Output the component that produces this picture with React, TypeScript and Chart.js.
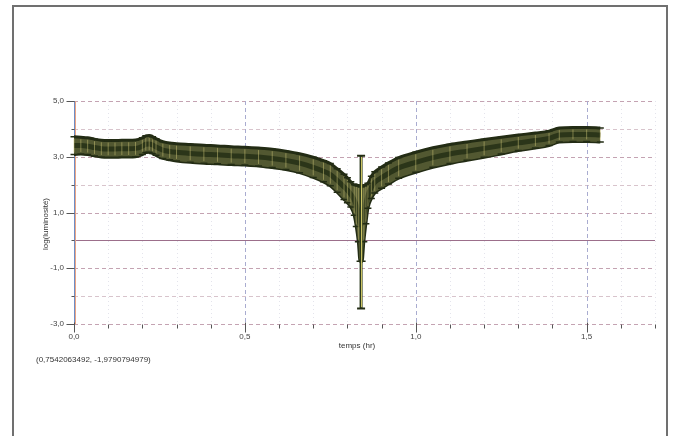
import React, { useEffect, useRef } from "react";
import { Chart, registerables } from "chart.js";

Chart.register(...registerables);

// time (hr)
const time = [0.00,0.02,0.04,0.06,0.08,0.10,0.12,0.14,0.16,0.18,0.20,0.21,0.22,0.23,0.24,0.26,0.28,0.30,0.34,0.38,0.42,0.46,0.50,0.54,0.58,0.62,0.66,0.70,0.73,0.75,0.77,0.79,0.80,0.81,0.82,0.826,0.832,0.837,0.843,0.848,0.854,0.86,0.87,0.88,0.90,0.92,0.95,1.00,1.05,1.10,1.15,1.20,1.25,1.30,1.35,1.39,1.42,1.46,1.50,1.54];
// log(luminosité)
const logLum = [3.40,3.40,3.38,3.33,3.29,3.28,3.28,3.29,3.29,3.30,3.38,3.45,3.46,3.42,3.35,3.24,3.19,3.16,3.12,3.09,3.07,3.04,3.02,2.99,2.94,2.87,2.77,2.62,2.48,2.36,2.15,1.92,1.80,1.65,1.45,1.25,0.95,0.60,0.60,0.95,1.30,1.60,1.90,2.08,2.25,2.40,2.60,2.80,2.97,3.10,3.20,3.30,3.40,3.50,3.58,3.66,3.78,3.80,3.80,3.78];
// error (±)
const err = [0.32,0.30,0.30,0.30,0.30,0.30,0.30,0.30,0.30,0.30,0.30,0.30,0.30,0.30,0.30,0.30,0.30,0.31,0.32,0.32,0.32,0.32,0.32,0.32,0.33,0.33,0.34,0.36,0.38,0.40,0.42,0.45,0.45,0.45,0.55,0.75,1.00,1.35,1.35,1.00,0.70,0.45,0.40,0.38,0.38,0.38,0.37,0.36,0.35,0.34,0.33,0.32,0.30,0.28,0.27,0.26,0.25,0.25,0.25,0.25];

// single point with the very large error bar
const spikeTime = [0.84];
const spikeValue = [0.30];
const spikeErr = [2.74];

const xTickValues = [0, 0.5, 1.0, 1.5];
const yTickValues = [5, 3, 1, -1, -3];

const xTitle = "temps (hr)";
const yTitle = "log(luminosité)";
const cursorText = "(0,7542063492, -1,9790794979)";

const FONT = "'Liberation Sans', Arial, sans-serif";
const fmt = (v: number) => v.toFixed(1).replace(".", ",");

const gridPlugin = {
  id: "customGrid",
  beforeDatasetsDraw(chart: any) {
    const ctx = chart.ctx;
    const xs = chart.scales.x;
    const ys = chart.scales.y;
    const { left, right, top, bottom } = chart.chartArea;
    ctx.save();
    ctx.lineWidth = 1;
    for (let i = 1; i <= 17; i++) {
      if (i % 5 === 0) continue;
      const px = Math.round(xs.getPixelForValue(i / 10)) + 0.5;
      ctx.strokeStyle = "#e4e4ec";
      ctx.setLineDash([1, 3]);
      ctx.beginPath();
      ctx.moveTo(px, top);
      ctx.lineTo(px, bottom);
      ctx.stroke();
    }
    for (let v = -3; v <= 5; v++) {
      const py = Math.round(ys.getPixelForValue(v)) + 0.5;
      if (v === 0) {
        ctx.setLineDash([]);
        ctx.strokeStyle = "#9c6f8b";
      } else {
        ctx.setLineDash([4, 3]);
        ctx.strokeStyle = v % 2 === 0 ? "#d8c4cc" : "#c4a3b2";
      }
      ctx.beginPath();
      ctx.moveTo(left, py);
      ctx.lineTo(right, py);
      ctx.stroke();
    }
    for (const v of [0.5, 1.0, 1.5]) {
      const px = Math.round(xs.getPixelForValue(v)) + 0.5;
      ctx.setLineDash([4, 3]);
      ctx.strokeStyle = "#a9acd0";
      ctx.beginPath();
      ctx.moveTo(px, top);
      ctx.lineTo(px, bottom);
      ctx.stroke();
    }
    ctx.setLineDash([]);
    const lx = Math.round(left) + 0.5;
    ctx.strokeStyle = "#e9a486";
    ctx.beginPath();
    ctx.moveTo(lx + 1, top);
    ctx.lineTo(lx + 1, bottom);
    ctx.stroke();
    ctx.strokeStyle = "#6d8dc6";
    ctx.beginPath();
    ctx.moveTo(lx, top);
    ctx.lineTo(lx, bottom);
    ctx.stroke();
    ctx.strokeStyle = "#555";
    for (let v = -3; v <= 5; v++) {
      const py = Math.round(ys.getPixelForValue(v)) + 0.5;
      const len = v % 2 !== 0 ? 8 : 3;
      ctx.beginPath();
      ctx.moveTo(lx - len, py);
      ctx.lineTo(lx, py);
      ctx.stroke();
    }
    const by = Math.round(bottom) + 0.5;
    for (let i = 0; i <= 17; i++) {
      const px = Math.round(xs.getPixelForValue(i / 10)) + 0.5;
      ctx.beginPath();
      if (i % 5 === 0) {
        ctx.moveTo(px, by - 2);
        ctx.lineTo(px, by + 8);
      } else {
        ctx.moveTo(px, by);
        ctx.lineTo(px, by + 4);
      }
      ctx.stroke();
    }
    ctx.restore();
  },
};

const errorBarPlugin = {
  id: "errorBars",
  afterDatasetsDraw(chart: any) {
    const ctx = chart.ctx;
    const xs = chart.scales.x;
    const ys = chart.scales.y;
    ctx.save();
    for (let i = 0; i < time.length; i++) {
      const px = xs.getPixelForValue(time[i]);
      const pTop = ys.getPixelForValue(logLum[i] + err[i]);
      const pBot = ys.getPixelForValue(logLum[i] - err[i]);
      ctx.strokeStyle = "rgba(205,198,120,0.5)";
      ctx.lineWidth = 1;
      ctx.beginPath();
      ctx.moveTo(px, pTop + 2);
      ctx.lineTo(px, pBot - 2);
      ctx.stroke();
      ctx.strokeStyle = "#232c14";
      ctx.lineWidth = 1.5;
      ctx.beginPath();
      ctx.moveTo(px - 3.5, pTop);
      ctx.lineTo(px + 3.5, pTop);
      ctx.moveTo(px - 3.5, pBot);
      ctx.lineTo(px + 3.5, pBot);
      ctx.stroke();
    }
    for (let i = 0; i < spikeTime.length; i++) {
      const px = xs.getPixelForValue(spikeTime[i]);
      const pTop = ys.getPixelForValue(spikeValue[i] + spikeErr[i]);
      const pBot = ys.getPixelForValue(spikeValue[i] - spikeErr[i]);
      ctx.strokeStyle = "#2c3a1e";
      ctx.lineWidth = 3;
      ctx.beginPath();
      ctx.moveTo(px, pTop);
      ctx.lineTo(px, pBot);
      ctx.stroke();
      ctx.strokeStyle = "#d9d06a";
      ctx.lineWidth = 1;
      ctx.beginPath();
      ctx.moveTo(px + 0.5, pTop + 1);
      ctx.lineTo(px + 0.5, pBot - 1);
      ctx.stroke();
      ctx.strokeStyle = "#232c14";
      ctx.lineWidth = 2;
      ctx.beginPath();
      ctx.moveTo(px - 4, pTop);
      ctx.lineTo(px + 4, pTop);
      ctx.moveTo(px - 4, pBot);
      ctx.lineTo(px + 4, pBot);
      ctx.stroke();
    }
    ctx.restore();
  },
  afterDraw(chart: any) {
    const ctx = chart.ctx;
    ctx.save();
    ctx.fillStyle = "#333";
    ctx.font = `8px ${FONT}`;
    ctx.textAlign = "center";
    ctx.textBaseline = "middle";
    ctx.fillText(xTitle, 357, 346);
    ctx.translate(46, 224);
    ctx.rotate(-Math.PI / 2);
    ctx.fillText(yTitle, 0, 0);
    ctx.restore();
  },
};

export default function App() {
  const ref = useRef<HTMLCanvasElement | null>(null);

  useEffect(() => {
    document.body.style.margin = "0";
    const canvas = ref.current;
    if (!canvas) return;
    const upper = time.map((t, i) => ({ x: t, y: logLum[i] + err[i] }));
    const lower = time.map((t, i) => ({ x: t, y: logLum[i] - err[i] }));
    const center = time.map((t, i) => ({ x: t, y: logLum[i] }));
    const chart = new Chart(canvas, {
      type: "line",
      data: {
        datasets: [
          {
            data: center,
            borderColor: "#2b3519",
            borderWidth: 5,
            pointRadius: 0,
            fill: false,
            cubicInterpolationMode: "monotone",
            order: 0,
          },
          {
            data: upper,
            borderColor: "#232c14",
            borderWidth: 3,
            backgroundColor: "#525831",
            pointRadius: 0,
            fill: "+1",
            cubicInterpolationMode: "monotone",
            order: 1,
          },
          {
            data: lower,
            borderColor: "#232c14",
            borderWidth: 3,
            pointRadius: 0,
            fill: false,
            cubicInterpolationMode: "monotone",
            order: 1,
          },
        ],
      },
      options: {
        animation: false,
        responsive: false,
        layout: { padding: { left: 0, right: 23, top: 101, bottom: 82 } },
        plugins: { legend: { display: false }, tooltip: { enabled: false } },
        scales: {
          x: {
            type: "linear",
            min: 0,
            max: 1.7,
            afterFit: (s: any) => {
              s.height = 30;
            },
            afterBuildTicks: (s: any) => {
              s.ticks = xTickValues.map((v) => ({ value: v }));
            },
            ticks: {
              callback: (v: any) => fmt(Number(v)),
              font: { size: 8, family: FONT },
              color: "#444",
              padding: 8,
              maxRotation: 0,
              autoSkip: false,
            },
            grid: { display: false, drawTicks: false },
            border: { display: false },
          },
          y: {
            min: -3,
            max: 5,
            afterFit: (s: any) => {
              s.width = 74;
            },
            afterBuildTicks: (s: any) => {
              s.ticks = yTickValues.map((v) => ({ value: v }));
            },
            ticks: {
              callback: (v: any) => fmt(Number(v)),
              font: { size: 8, family: FONT },
              color: "#444",
              padding: 10,
              autoSkip: false,
            },
            grid: { display: false, drawTicks: false },
            border: { display: false },
          },
        },
      },
      plugins: [gridPlugin, errorBarPlugin],
    } as any);
    return () => chart.destroy();
  }, []);

  return (
    <div style={{ position: "relative", width: 678, height: 436, overflow: "hidden", background: "#fff" }}>
      <div
        style={{
          position: "absolute",
          left: 12,
          top: 5,
          width: 656,
          height: 460,
          border: "2px solid #707070",
          boxSizing: "border-box",
        }}
      />
      <canvas ref={ref} width={678} height={436} style={{ position: "absolute", left: 0, top: 0 }} />
      <div
        style={{
          position: "absolute",
          left: 36,
          top: 355,
          font: `8px ${FONT}`,
          color: "#333",
          whiteSpace: "nowrap",
        }}
      >
        {cursorText}
      </div>
    </div>
  );
}
